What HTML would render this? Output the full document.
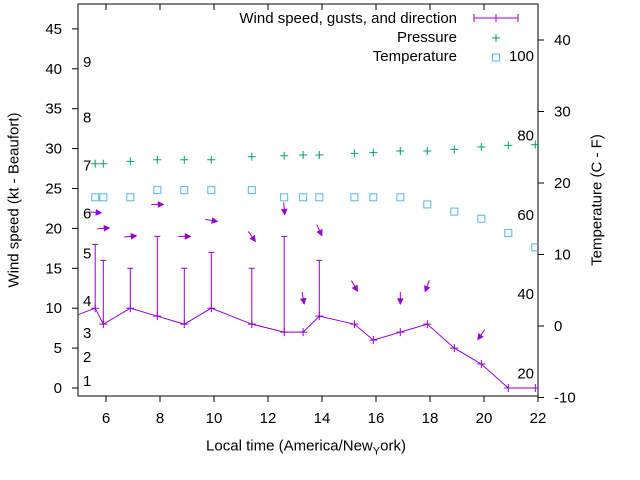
<!DOCTYPE html>
<html><head><meta charset="utf-8"><style>
body{margin:0;background:#fff}
svg{display:block;font-family:"Liberation Sans",sans-serif}
</style></head><body>
<svg id="c" width="640" height="480"></svg>
<script>
const hours=[5.6,5.9,6.9,7.9,8.9,9.9,11.4,12.6,13.3,13.9,15.2,15.9,16.9,17.9,18.9,19.9,20.9,21.9];
const windSpeed=[10,8,10,9,8,10,8,7,7,9,8,6,7,8,5,3,0,0];
const gustHours=[5.6,5.9,6.9,7.9,8.9,9.9,11.4,12.6,13.9];
const gustSpeed=[18,16,15,19,15,17,15,19,16];
const pressureLevel=[28.1,28.1,28.4,28.6,28.6,28.6,29.0,29.1,29.2,29.2,29.4,29.5,29.7,29.7,29.9,30.2,30.4,30.5];
const tempC=[18,18,18,19,19,19,19,18,18,18,18,18,18,17,16,15,13,11];
const arrowHours=[5.6,5.9,6.9,7.9,8.9,9.9,11.4,12.6,13.3,13.9,15.2,16.9,17.9,19.9];
const arrowLevel=[22,20,19,23,19,21,19,22.5,11.3,19.8,12.8,11.3,12.8,6.7];
const arrowDir=[95,85,85,90,90,100,145,175,170,155,150,180,200,215];
const leftTicks=[0,5,10,15,20,25,30,35,40,45];
const rightTicks=[-10,0,10,20,30,40];
const xTicks=[6,8,10,12,14,16,18,20,22];
const beaufortLabels=[["1",1],["2",4],["3",7],["4",11],["5",17],["6",22],["7",28],["8",34],["9",41]];
const fLabels=[20,40,60,80,100];

const L=78,R=538,T=4,B=396;
const X=h=>106+27*(h-6);
const Y=v=>388-7.98*v;
const YR=c=>326-7.15*c;
const YF=f=>YR((f-32)*5/9);
const svg=document.getElementById('c');
const NS='http://www.w3.org/2000/svg';
function mk(t,a,p){const e=document.createElementNS(NS,t);for(const k in a)e.setAttribute(k,a[k]);(p||svg).appendChild(e);return e;}

const defs=mk('defs',{});const cp=mk('clipPath',{id:'pc'},defs);mk('rect',{x:L,y:T,width:R-L,height:B-T},cp);

leftTicks.forEach(v=>{const y=Y(v);
 const t=mk('line',{x1:L-6,x2:L,y1:y,y2:y,stroke:'#000'});
 
 const s=mk('text',{x:L-16,y:y+5,'text-anchor':'end','font-size':15});s.textContent=v;
 });
rightTicks.forEach(v=>{const y=YR(v);
 const t=mk('line',{x1:R,x2:R+6,y1:y,y2:y,stroke:'#000'});
 
 const s=mk('text',{x:R+16,y:y+5,'font-size':15});s.textContent=v;
 });
xTicks.forEach(v=>{const x=X(v);
 const t=mk('line',{x1:x,x2:x,y1:B,y2:B+6,stroke:'#000'});
 
 const t2=mk('line',{x1:x,x2:x,y1:T,y2:T+6,stroke:'#000'});
 
 const s=mk('text',{x:x,y:B+27,'text-anchor':'middle','font-size':15});s.textContent=v;
 });
const fr=mk('rect',{x:L,y:T,width:R-L,height:B-T,fill:'none',stroke:'#000'});


beaufortLabels.forEach(b=>{const s=mk('text',{x:83,y:Y(b[1])+6,'font-size':15});s.textContent=b[0];
 });
fLabels.forEach(f=>{const s=mk('text',{x:534,y:YF(f)+5,'text-anchor':'end','font-size':15});s.textContent=f;
 });

const g=mk('g',{'clip-path':'url(#pc)'});
const P='#9400d3';
let d='M'+X(4.9)+','+Y(9.1);
hours.forEach((h,i)=>{d+=' L'+X(h)+','+Y(windSpeed[i]);});
const wl=mk('path',{d:d,fill:'none',stroke:P,'stroke-width':1},g);

hours.forEach((h,i)=>{const x=X(h),y=Y(windSpeed[i]);
 const m=mk('path',{d:`M${x-4},${y}h8M${x},${y-4}v8`,stroke:P},g);
 });
gustHours.forEach((h,i)=>{const x=X(h);const j=hours.indexOf(h);const y0=Y(windSpeed[j]),y1=Y(gustSpeed[i]);
 const m=mk('path',{d:`M${x},${y0}V${y1}M${x-3},${y1}h6`,stroke:P,fill:'none'},g);
 });
arrowHours.forEach((h,i)=>{const cx=X(h),cy=Y(arrowLevel[i]);const a=arrowDir[i]*Math.PI/180;
 const dx=Math.sin(a)*6,dy=-Math.cos(a)*6;const tx=cx+dx,ty=cy+dy;
 const px=-dy/6,py=dx/6,ux=dx/6,uy=dy/6;
 const ar=mk('g',{},g);
 mk('line',{x1:cx-dx,y1:cy-dy,x2:tx,y2:ty,stroke:P},ar);
 mk('polygon',{points:`${tx},${ty} ${tx-ux*5+px*2.5},${ty-uy*5+py*2.5} ${tx-ux*5-px*2.5},${ty-uy*5-py*2.5}`,fill:P,stroke:P},ar);});
hours.forEach((h,i)=>{const x=X(h),y=Y(pressureLevel[i]);
 const m=mk('path',{d:`M${x-4},${y}h8M${x},${y-4}v8`,stroke:'#009e73'},g);
 });
hours.forEach((h,i)=>{const x=X(h),y=YR(tempC[i]);
 const m=mk('rect',{x:x-3.5,y:y-3.5,width:7,height:7,fill:'none',stroke:'#56b4e9'},g);
 });

function lt(txt,y,name){const s=mk('text',{x:457,y:y,'text-anchor':'end','font-size':15});s.textContent=txt;
 }
lt('Wind speed, gusts, and direction',23,'legend-wind');
lt('Pressure',42,'legend-pressure');
lt('Temperature',61,'legend-temperature');
const l1=mk('path',{d:'M474,18H518M474,14v8M518,14v8M496,14v8',stroke:P,fill:'none'});

const l2=mk('path',{d:'M492,38h8M496,34v8',stroke:'#009e73'});

const l3=mk('rect',{x:492.5,y:54,width:7,height:7,fill:'none',stroke:'#56b4e9'});

</script>
<div style="position:absolute;left:0;top:0;width:640px;height:480px;pointer-events:none">
<div style="position:absolute;left:14px;top:200px;transform:translate(-50%,-50%) rotate(-90deg);white-space:nowrap;font:15px 'Liberation Sans',sans-serif">Wind speed (kt - Beaufort)</div>
<div style="position:absolute;left:597px;top:200px;transform:translate(-50%,-50%) rotate(-90deg);white-space:nowrap;font:15px 'Liberation Sans',sans-serif">Temperature (C - F)</div>
<div style="position:absolute;left:306px;top:446px;transform:translate(-50%,-50%);white-space:nowrap;font:15px 'Liberation Sans',sans-serif">Local time (America/New<span style="font-size:11px;position:relative;top:4px">Y</span>ork)</div>
</div>
</body></html>
